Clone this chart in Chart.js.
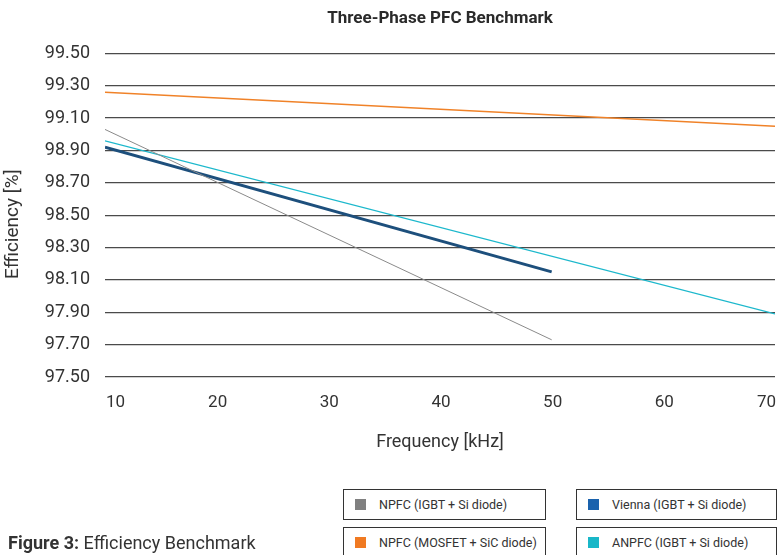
<!DOCTYPE html>
<html>
<head>
<meta charset="utf-8">
<script src="https://cdn.jsdelivr.net/npm/chart.js@4/dist/chart.umd.min.js"></script>
<style>
  html, body { margin: 0; padding: 0; background: #fff; }
  #wrap { position: relative; width: 779px; height: 555px; overflow: hidden; font-family: Roboto, "Noto Sans", sans-serif; color: #333; }
  #chart { position: absolute; left: 0; top: 0; }
  .lg { position: absolute; box-sizing: border-box; height: 31px; border: 1px solid #333; background: #fff;
        font-size: 12.5px; color: #333; display: flex; align-items: center; padding-left: 11px; white-space: nowrap; }
  .lg .sw { width: 11px; height: 11px; margin-right: 13px; flex: none; }
  #caption { position: absolute; left: 8px; top: 532px; font-size: 18px; color: #333; white-space: nowrap; }
  #caption b { font-weight: 700; }
</style>
</head>
<body>
<div id="wrap">
  <canvas id="chart" width="779" height="555"></canvas>
  <div id="legend"></div>
  <div id="caption"><b>Figure 3:</b> Efficiency Benchmark</div>
</div>
<script>
// Switching frequency (kHz) at the start and end of each measured curve
const freqNPFC = [10, 50];
const freqVienna = [10, 50];
const freqNPFCSiC = [10, 70];
const freqANPFC = [10, 70];

// Efficiency (%) at those frequencies
const effNPFC = [99.03, 97.73];
const effVienna = [98.92, 98.15];
const effNPFCSiC = [99.26, 99.05];
const effANPFC = [98.96, 97.89];

const seriesNames = [
  'NPFC (IGBT + Si diode)',
  'Vienna (IGBT + Si diode)',
  'NPFC (MOSFET + SiC diode)',
  'ANPFC (IGBT + Si diode)'
];
const lineColors = ['#8a8a8a', '#1d4f7c', '#f08228', '#1cb8cc'];
const swatchColors = ['#808080', '#1a62ad', '#f07a22', '#19b7c8'];
const lineWidths = [1, 3, 1.5, 1.2];

const xTicks = [10, 20, 30, 40, 50, 60, 70];
const yTicks = [97.5, 97.7, 97.9, 98.1, 98.3, 98.5, 98.7, 98.9, 99.1, 99.3, 99.5];
const yAxisTitle = 'Efficiency [%]';

const toPoints = (xs, ys) => xs.map((x, i) => ({ x: x, y: ys[i] }));
const seriesData = [
  toPoints(freqNPFC, effNPFC),
  toPoints(freqVienna, effVienna),
  toPoints(freqNPFCSiC, effNPFCSiC),
  toPoints(freqANPFC, effANPFC)
];

const FONT = 'Roboto, "Noto Sans", sans-serif';

// Rotated y-axis caption, drawn a little below the plot's vertical centre
const yTitlePlugin = {
  id: 'yTitle',
  afterDraw(chart) {
    const { ctx, chartArea } = chart;
    ctx.save();
    ctx.translate(13, (chartArea.top + chartArea.bottom) / 2 + 9);
    ctx.rotate(-Math.PI / 2);
    ctx.font = '19px ' + FONT;
    ctx.fillStyle = '#333';
    ctx.textAlign = 'center';
    ctx.textBaseline = 'middle';
    ctx.fillText(yAxisTitle, 0, 0);
    ctx.restore();
  }
};

const noEdgePadding = (s) => {
  s.paddingLeft = 0; s.paddingRight = 0; s.paddingTop = 0; s.paddingBottom = 0;
};

new Chart(document.getElementById('chart'), {
  type: 'line',
  data: {
    datasets: seriesNames.map((name, i) => ({
      label: name,
      data: seriesData[i],
      borderColor: lineColors[i],
      backgroundColor: lineColors[i],
      borderWidth: lineWidths[i],
      pointRadius: 0,
      tension: 0,
      fill: false
    }))
  },
  plugins: [yTitlePlugin],
  options: {
    responsive: false,
    animation: false,
    events: [],
    layout: { padding: { left: 0, right: 4, top: 0, bottom: 102 } },
    plugins: {
      legend: { display: false },
      tooltip: { enabled: false },
      title: {
        display: true,
        fullSize: false,
        text: 'Three-Phase PFC Benchmark',
        color: '#2a2a2a',
        font: { family: FONT, size: 17, weight: 'bold', lineHeight: 1.2 },
        padding: { top: 9, bottom: 24 }
      }
    },
    scales: {
      x: {
        type: 'linear',
        min: 10,
        max: 70,
        border: { display: false },
        grid: { display: false, drawTicks: false },
        afterBuildTicks: (s) => { s.ticks = xTicks.map(v => ({ value: v })); },
        afterFit: noEdgePadding,
        ticks: {
          color: '#333',
          padding: 16,
          align: 'inner',
          labelOffset: 1,
          font: { family: FONT, size: 17 },
          maxRotation: 0,
          callback: (v) => String(v)
        },
        title: {
          display: true,
          text: 'Frequency [kHz]',
          color: '#333',
          font: { family: FONT, size: 18 },
          padding: { top: 2, bottom: 0 }
        }
      },
      y: {
        type: 'linear',
        min: 97.5,
        max: 99.5,
        border: { display: false },
        grid: { color: '#4a4a4a', lineWidth: 1.3, drawTicks: false },
        afterBuildTicks: (s) => { s.ticks = yTicks.map(v => ({ value: v })); },
        afterFit: (s) => { s.width = 105; noEdgePadding(s); },
        ticks: {
          color: '#333',
          padding: 15,
          font: { family: FONT, size: 18 },
          callback: (v) => Number(v).toFixed(2)
        }
      }
    }
  }
});

// Legend boxes below the plot, two per row
const legendBoxes = [
  { left: 343, top: 489, width: 203 },
  { left: 576, top: 489, width: 201 },
  { left: 343, top: 527, width: 203 },
  { left: 576, top: 527, width: 201 }
];
const legendEl = document.getElementById('legend');
seriesNames.forEach((name, i) => {
  const b = legendBoxes[i];
  const d = document.createElement('div');
  d.className = 'lg';
  d.style.left = b.left + 'px';
  d.style.top = b.top + 'px';
  d.style.width = b.width + 'px';
  const sw = document.createElement('span');
  sw.className = 'sw';
  sw.style.background = swatchColors[i];
  const t = document.createElement('span');
  t.textContent = name;
  d.appendChild(sw);
  d.appendChild(t);
  legendEl.appendChild(d);
});
</script>
</body>
</html>
